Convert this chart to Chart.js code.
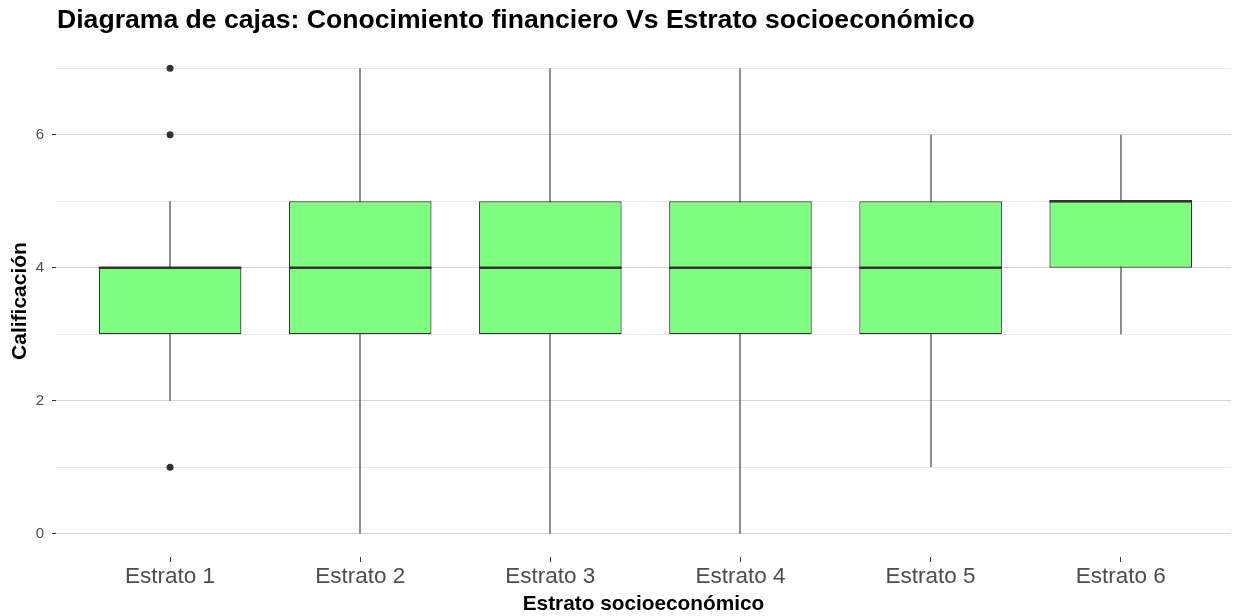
<!DOCTYPE html>
<html>
<head>
<meta charset="utf-8">
<title>Diagrama de cajas</title>
<script src="https://cdn.jsdelivr.net/npm/chart.js@4.4.0/dist/chart.umd.min.js"></script>
<style>
  html, body { margin: 0; padding: 0; background: #fff; }
  #wrap { width: 1235px; height: 616px; position: relative; }
</style>
</head>
<body>
<div id="wrap"><canvas id="boxChart"></canvas></div>
<script>
// ---- data ----
const categories = ['Estrato 1', 'Estrato 2', 'Estrato 3', 'Estrato 4', 'Estrato 5', 'Estrato 6'];
const whiskerLow = [2, 0, 0, 0, 1, 3];
const q1 = [3, 3, 3, 3, 3, 4];
const medians = [4, 4, 4, 4, 4, 5];
const q3 = [4, 5, 5, 5, 5, 5];
const whiskerHigh = [5, 7, 7, 7, 6, 6];
const outlierCategory = [1, 1, 1];
const outlierValues = [7, 6, 1];
const yTicks = [0, 1, 2, 3, 4, 5, 6, 7];

const FONT = "'Liberation Sans', Arial, sans-serif";
const INK = '#333333';

// whiskers under the boxes, medians over them, title on top
const boxPlotExtras = {
    id: 'boxPlotExtras',
    beforeDatasetsDraw(chart) {
        const { ctx, scales: { x, y } } = chart;
        ctx.save();
        ctx.strokeStyle = INK;
        ctx.lineWidth = 1.1;
        categories.forEach((c, i) => {
            const px = Math.round(x.getPixelForValue(i + 1));
            ctx.beginPath();
            ctx.moveTo(px, y.getPixelForValue(whiskerLow[i]));
            ctx.lineTo(px, y.getPixelForValue(whiskerHigh[i]));
            ctx.stroke();
        });
        ctx.restore();
    },
    afterDatasetsDraw(chart) {
        const { ctx, scales: { y } } = chart;
        const boxes = chart.getDatasetMeta(0).data;
        ctx.save();
        ctx.strokeStyle = INK;
        ctx.lineWidth = 2.4;
        boxes.forEach((bar, i) => {
            const py = y.getPixelForValue(medians[i]);
            ctx.beginPath();
            ctx.moveTo(bar.x - bar.width / 2, py);
            ctx.lineTo(bar.x + bar.width / 2, py);
            ctx.stroke();
        });
        ctx.restore();
    },
    afterDraw(chart) {
        const { ctx, chartArea } = chart;
        ctx.save();
        ctx.fillStyle = '#000';
        ctx.font = `bold 26.6px ${FONT}`;
        ctx.textBaseline = 'middle';
        ctx.textAlign = 'left';
        ctx.fillText('Diagrama de cajas: Conocimiento financiero Vs Estrato socioeconómico', chartArea.left + 1, 21);
        ctx.restore();
    }
};

new Chart(document.getElementById('boxChart'), {
    type: 'bar',
    data: {
        datasets: [{
            label: 'Caja',
            data: categories.map((c, i) => ({ x: i + 1, y: [q1[i], q3[i]] })),
            backgroundColor: '#80FF80',
            borderColor: INK,
            borderWidth: 1.2,
            borderSkipped: false,
            categoryPercentage: 0.75,
            barPercentage: 1
        }, {
            type: 'scatter',
            label: 'Atípicos',
            data: outlierCategory.map((c, i) => ({ x: c, y: outlierValues[i] })),
            backgroundColor: INK,
            borderWidth: 0,
            pointRadius: 3.5
        }]
    },
    options: {
        responsive: true,
        maintainAspectRatio: false,
        animation: false,
        devicePixelRatio: 1,
        layout: { padding: { top: 45, left: 0, right: 0, bottom: 0 } },
        plugins: {
            legend: { display: false },
            tooltip: { enabled: false }
        },
        scales: {
            x: {
                type: 'linear',
                min: 0.4,
                max: 6.58,
                offset: false,
                afterBuildTicks: s => { s.ticks = categories.map((c, i) => ({ value: i + 1 })); },
                afterFit: s => { s.height = 59; },
                ticks: {
                    callback: v => categories[v - 1] || '',
                    color: '#4d4d4d',
                    font: { family: FONT, size: 22.5 },
                    padding: 1,
                    maxRotation: 0,
                    autoSkip: false
                },
                grid: {
                    offset: false,
                    drawOnChartArea: false,
                    drawTicks: true,
                    tickLength: 5,
                    tickColor: INK
                },
                border: { display: false },
                title: {
                    display: true,
                    text: 'Estrato socioeconómico',
                    color: '#000',
                    font: { family: FONT, size: 20.8, weight: 'bold' },
                    padding: { top: 0, bottom: -1 }
                }
            },
            y: {
                type: 'linear',
                min: -0.35,
                max: 7.35,
                afterBuildTicks: s => { s.ticks = yTicks.map(v => ({ value: v })); },
                afterFit: s => { s.width = 56; },
                ticks: {
                    callback: v => (v % 2 === 0 ? v : ''),
                    color: '#4d4d4d',
                    font: { family: FONT, size: 15 },
                    padding: 8
                },
                grid: {
                    color: c => (c.tick && c.tick.value % 2 === 0 ? '#d6d6d6' : '#ebebeb'),
                    tickColor: c => (c.tick && c.tick.value % 2 === 0 ? INK : 'rgba(0,0,0,0)'),
                    tickLength: 4,
                    lineWidth: 1
                },
                border: { display: false },
                title: {
                    display: true,
                    text: 'Calificación',
                    color: '#000',
                    font: { family: FONT, size: 21, weight: 'bold' },
                    padding: { top: 8, bottom: 0 }
                }
            }
        }
    },
    plugins: [boxPlotExtras]
});
</script>
</body>
</html>
